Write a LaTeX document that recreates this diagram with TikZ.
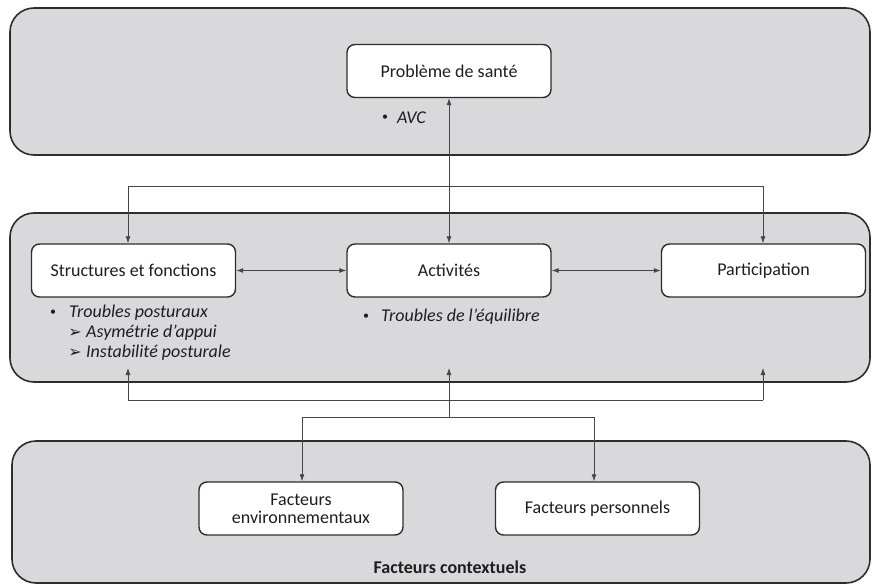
\documentclass[tikz,border=0pt]{standalone}
\usepackage{fontspec}
\setmainfont{Carlito}
\newfontfamily\symfont{DejaVu Sans}
\usetikzlibrary{arrows.meta}
\definecolor{panelgray}{RGB}{217,217,219}
\definecolor{edgegray}{RGB}{45,45,45}
\definecolor{linegray}{RGB}{70,70,70}
\definecolor{txt}{RGB}{30,30,30}
\tikzset{
  panel/.style={draw=edgegray, line width=1.6pt, fill=panelgray, rounded corners=24pt},
  boxnode/.style={draw=edgegray, line width=1.4pt, fill=white, rounded corners=8pt,
    minimum width=204pt, minimum height=53pt, align=center, text=txt, inner sep=2pt},
  conn/.style={draw=linegray, line width=0.8pt},
  tip/.style={-{Latex[length=7pt,width=5pt]}},
  dtip/.style={{Latex[length=7pt,width=5pt]}-{Latex[length=7pt,width=5pt]}},
  itemtext/.style={anchor=west, font=\fontsize{18}{21}\selectfont\itshape, text=txt, inner sep=0pt},
  bulletmark/.style={anchor=center, text=txt, inner sep=0pt, font=\fontsize{12}{14}\selectfont},
  arrowmark/.style={anchor=center, text=txt, inner sep=0pt, font=\symfont\fontsize{16}{18}\selectfont}
}
\begin{document}
\begin{tikzpicture}[x=1pt,y=-1pt,font=\fontsize{18}{21}\selectfont]
\useasboundingbox (0,0) rectangle (872,585);
% panels
\draw[panel] (10,8) rectangle (870,155);
\draw[panel] (10,213) rectangle (870,382);
\draw[panel] (12,441) rectangle (870,583);
% boxes
\node[boxnode] (prob) at (449,71) {Problème de santé};
\node[boxnode] (sf) at (133.5,270.5) {Structures et fonctions};
\node[boxnode] (act) at (449,270.5) {Activités};
\node[boxnode] (part) at (763.5,270.5) {Participation};
\node[boxnode] (fe) at (301,508.5) {Facteurs\\[-3pt]environnementaux};
\node[boxnode] (fp) at (597.5,508.5) {Facteurs personnels};
\node[font=\fontsize{18}{21}\selectfont\bfseries, text=txt] (ctx) at (450,567) {Facteurs contextuels};
% items
\node[bulletmark] (b0) at (385,118) {•};
\node[itemtext] (avc) at (397,118) {AVC};
\node[bulletmark] (b1) at (53,313) {•};
\node[itemtext] (tp) at (69,313) {Troubles posturaux};
\node[arrowmark] (a1) at (75,333) {➢};
\node[itemtext] (aa) at (86,333) {Asymétrie d’appui};
\node[arrowmark] (a2) at (75,353) {➢};
\node[itemtext] (ip) at (86,353) {Instabilité posturale};
\node[bulletmark] (b2) at (366,317) {•};
\node[itemtext] (te) at (381,317) {Troubles de l’équilibre};
% junction coordinates
\coordinate (tl) at (128,186);
\coordinate (tr) at (763,186);
\coordinate (ul) at (128,368);
\coordinate (uc) at (449,368);
\coordinate (ur) at (763,368);
\coordinate (hl) at (128,400);
\coordinate (hc) at (449,400);
\coordinate (hr) at (763,400);
\coordinate (jc) at (449,417);
\coordinate (jl) at (302,417);
\coordinate (jr) at (594,417);
% connectors
\draw[conn,dtip] (act.north) -- (prob.south);
\draw[conn] (tl) -- (tr);
\draw[conn,tip] (tl) -- (tl |- sf.north);
\draw[conn,tip] (tr) -- (tr |- part.north);
\draw[conn,dtip] (sf.east) -- (act.west);
\draw[conn,dtip] (act.east) -- (part.west);
\draw[conn] (hl) -- (hr);
\draw[conn,tip] (hl) -- (ul);
\draw[conn,tip] (hc) -- (uc);
\draw[conn,tip] (hr) -- (ur);
\draw[conn] (hc) -- (jc);
\draw[conn] (jl) -- (jr);
\draw[conn,tip] (jl) -- (jl |- fe.north);
\draw[conn,tip] (jr) -- (jr |- fp.north);
\end{tikzpicture}
\end{document}
